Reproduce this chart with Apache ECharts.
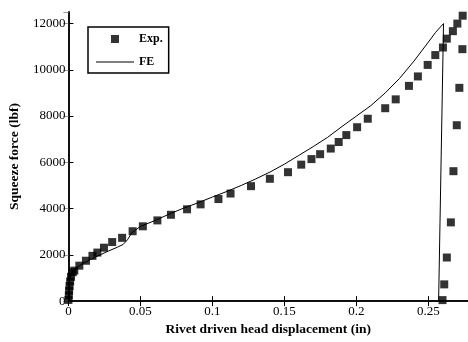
<!DOCTYPE html>
<html>
<head>
<meta charset="utf-8">
<script src="https://cdn.jsdelivr.net/npm/echarts@6/dist/echarts.min.js"></script>
<style>
html, body { margin: 0; padding: 0; background: #fff; }
#chart { width: 468px; height: 342px; }
</style>
</head>
<body>
<div id="chart"></div>
<script>
// experimental points, [displacement (in), force (lbf)]
var expX = [0, 0.0003, 0.0005, 0.0008, 0.0012, 0.0018, 0.003, 0.0041, 0.0076, 0.0122, 0.0167, 0.0201, 0.0247,
	0.0304, 0.0373, 0.0446, 0.0517, 0.0618, 0.0712, 0.0824, 0.0918, 0.1042, 0.1126, 0.1268, 0.1399,
	0.1525, 0.1617, 0.1688, 0.1748, 0.1822, 0.1877, 0.1930, 0.2005, 0.2079, 0.2200, 0.2273, 0.2365,
	0.2427, 0.2495, 0.2548, 0.2601, 0.2628, 0.2670, 0.2701, 0.2738,
	0.2736, 0.2715, 0.2697, 0.2674, 0.2656, 0.2628, 0.2610, 0.2598];
var expY = [50, 250, 450, 650, 850, 1050, 1250, 1319, 1532, 1745, 1957, 2098, 2310,
	2553, 2736, 3021, 3234, 3489, 3732, 3970, 4183, 4412, 4651, 4970, 5289,
	5574, 5900, 6140, 6353, 6595, 6880, 7178, 7519, 7885, 8340, 8723, 9306,
	9714, 10212, 10638, 10965, 11348, 11671, 11999, 12340,
	10893, 9221, 7604, 5617, 3404, 1885, 723, 43];

// finite element curve
var feX = [0, 0.0003, 0.0008, 0.002, 0.005, 0.01, 0.016, 0.022, 0.028, 0.034, 0.038, 0.041, 0.044,
	0.05, 0.06, 0.07, 0.08, 0.09, 0.1, 0.11, 0.12, 0.13, 0.14, 0.15, 0.16, 0.17, 0.18, 0.19,
	0.2, 0.21, 0.22, 0.23, 0.24, 0.25, 0.255, 0.2605, 0.2571];
var feY = [0, 500, 900, 1200, 1420, 1620, 1820, 2000, 2170, 2330, 2450, 2650, 2950,
	3230, 3480, 3760, 4020, 4250, 4500, 4740, 5000, 5280, 5580, 5920, 6300, 6680, 7080, 7550,
	8000, 8450, 9000, 9630, 10380, 11200, 11620, 12000, 0];

var xMax = 0.2775;
var yMax = 12500;

var expData = [];
for (var i = 0; i < expX.length; i++) {
	expData.push([expX[i], expY[i]]);
}
var feData = [];
for (var i = 0; i < feX.length; i++) {
	feData.push([feX[i], feY[i]]);
}

var fontFam = '"Liberation Serif", "DejaVu Serif", serif';

var chart = echarts.init(document.getElementById('chart'));
var option = {
	animation : false,
	backgroundColor : '#fff',
	grid : {
		left : 64,
		right : 0,
		top : 12,
		bottom : 34
	},
	legend : {
		orient : 'vertical',
		left : 88,
		top : 27,
		padding : [6, 6, 5, 8],
		borderColor : '#000',
		borderWidth : 1.5,
		backgroundColor : '#fff',
		itemWidth : 38,
		itemHeight : 8,
		itemGap : 11,
		textStyle : {
			fontFamily : fontFam,
			fontSize : 12,
			fontWeight : 'bold',
			color : '#000'
		},
		data : [
			{ name : 'Exp.', icon : 'path://M0,0L1,0L1,1L0,1Z' },
			{ name : 'FE', icon : 'path://M0,0L38,0L38,1L0,1Z' }
		]
	},
	xAxis : [
		{
			type : 'value',
			min : 0,
			max : xMax,
			interval : 0.05,
			name : 'Rivet driven head displacement (in)',
			nameLocation : 'middle',
			nameGap : 18,
			nameTextStyle : {
				fontFamily : fontFam,
				fontSize : 13.5,
				fontWeight : 'bold',
				color : '#000'
			},
			splitLine : { show : false },
			axisLine : { lineStyle : { color : '#000', width : 1.5 } },
			axisTick : { inside : true, length : 5, lineStyle : { color : '#000' } },
			axisLabel : {
				showMaxLabel : false,
				margin : 4,
				fontFamily : fontFam,
				fontSize : 13,
				color : '#000'
			}
		},
		{
			type : 'value',
			position : 'top',
			min : 0,
			max : xMax,
			interval : 0.05,
			splitLine : { show : false },
			axisLine : { lineStyle : { color : '#000', width : 1.5 } },
			axisTick : { inside : true, length : 5, lineStyle : { color : '#000' } },
			axisLabel : { show : false }
		}
	],
	yAxis : [
		{
			type : 'value',
			min : 0,
			max : yMax,
			interval : 2000,
			name : 'Squeeze force (lbf)',
			nameLocation : 'middle',
			nameGap : 46,
			nameTextStyle : {
				fontFamily : fontFam,
				fontSize : 13.5,
				fontWeight : 'bold',
				color : '#000'
			},
			splitLine : { show : false },
			axisLine : { lineStyle : { color : '#000', width : 1.5 } },
			axisTick : { inside : true, length : 5, lineStyle : { color : '#000' } },
			axisLabel : {
				showMaxLabel : false,
				margin : 3,
				fontFamily : fontFam,
				fontSize : 13,
				color : '#000',
				formatter : function(v) {
					return String(v);
				}
			}
		},
		{
			type : 'value',
			position : 'right',
			min : 0,
			max : yMax,
			interval : 2000,
			splitLine : { show : false },
			axisLine : { lineStyle : { color : '#000', width : 1.5 } },
			axisTick : { inside : true, length : 5, lineStyle : { color : '#999' } },
			axisLabel : { show : false }
		}
	],
	series : [
		{
			name : 'Exp.',
			type : 'scatter',
			symbol : 'rect',
			symbolSize : 8,
			itemStyle : { color : '#000' },
			data : expData,
			z : 3
		},
		{
			name : 'FE',
			type : 'line',
			symbol : 'none',
			lineStyle : { color : '#000', width : 1 },
			itemStyle : { color : '#000' },
			data : feData,
			z : 2
		}
	]
};
chart.setOption(option);
window.onresize = chart.resize;
</script>
</body>
</html>
